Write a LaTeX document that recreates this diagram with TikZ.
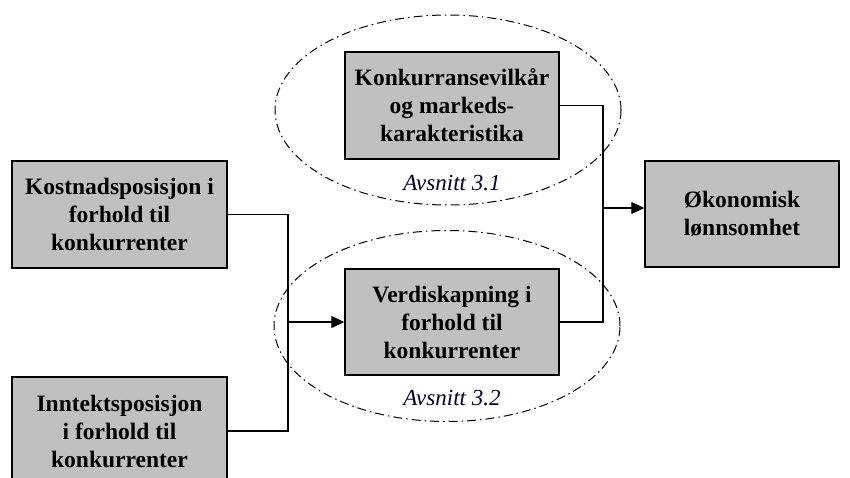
\documentclass[tikz,border=0pt]{standalone}
\usepackage{fontspec}
\setmainfont{Liberation Serif}
\usetikzlibrary{arrows.meta,shapes.geometric}
\definecolor{boxgray}{RGB}{192,192,192}
\begin{document}
\begin{tikzpicture}[x=1pt,y=-1pt,
  boxnode/.style={draw=black, line width=1.4pt, fill=boxgray, align=center,
    font=\fontsize{23.5}{28}\selectfont\bfseries, inner sep=0pt},
  region/.style={draw=black, ellipse, line width=1pt, inner sep=0pt,
    dash pattern=on 9pt off 4pt on 1.5pt off 4pt},
  secnote/.style={font=\fontsize{23}{26}\selectfont\itshape, inner sep=0pt, text=black!85!blue},
  conn/.style={draw=black, line width=1.3pt},
  arr/.style={conn, -{Triangle[length=13pt,width=12pt]}}]
\useasboundingbox (0,0) rectangle (850,477);
\fill[white] (0,0) rectangle (850,477);
% dashed regions
\node[region, minimum width=346pt, minimum height=190pt] (e1) at (448,110) {};
\node[region, minimum width=346pt, minimum height=191pt] (e2) at (447,326) {};
% boxes
\node[boxnode, minimum width=214pt, minimum height=107pt] (k1) at (452,105.5)
  {Konkurransevilkår\\og markeds-\\karakteristika};
\node[boxnode, minimum width=214pt, minimum height=106pt] (k2) at (452,322)
  {Verdiskapning i\\forhold til\\konkurrenter};
\node[boxnode, minimum width=215pt, minimum height=107pt] (kost) at (119.5,214.5)
  {Kostnadsposisjon i\\forhold til\\konkurrenter};
\node[boxnode, minimum width=215pt, minimum height=108pt] (innt) at (119.5,431)
  {Inntektsposisjon\\i forhold til\\konkurrenter};
\node[boxnode, minimum width=194pt, minimum height=106pt] (okon) at (742,214)
  {Økonomisk\\lønnsomhet};
% section notes
\node[secnote] (s1) at (452,183) {Avsnitt 3.1};
\node[secnote] (s2) at (452,398) {Avsnitt 3.2};
% connectors
\coordinate (jl) at (288,322);
\coordinate (jr) at (603,208);
\draw[conn] (kost.east) -| (jl);
\draw[conn] (innt.east) -| (jl);
\draw[arr] (jl) -- (k2.west);
\draw[conn] (k1.east) -| (jr) |- (k2.east);
\draw[arr] (jr) -- (jr -| okon.west);
\end{tikzpicture}
\end{document}
